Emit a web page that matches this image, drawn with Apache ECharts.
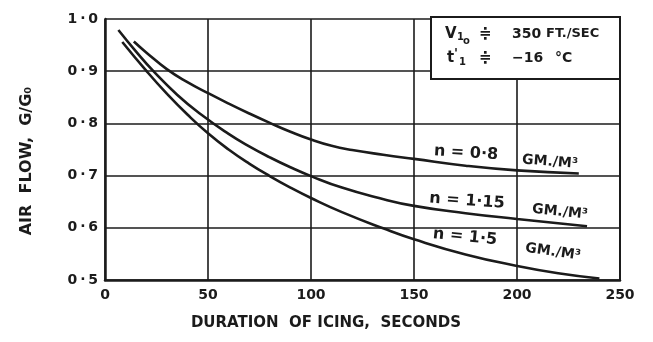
<!DOCTYPE html>
<html><head><meta charset="utf-8">
<script src="https://cdn.jsdelivr.net/npm/echarts@6/dist/echarts.min.js"></script>
<style>html,body{margin:0;padding:0;background:#fff}#c{width:653px;height:342px}</style>
</head><body><div id="c"></div>
<script>
// Curve n = 0.8 GM/M³
const duration08 = [14, 20, 30, 40, 50, 60, 70, 80, 90, 100, 110, 120, 135, 150, 175, 200, 230];
const airflow08  = [0.957, 0.936, 0.904, 0.879, 0.858, 0.838, 0.819, 0.801, 0.784, 0.769, 0.757, 0.749, 0.740, 0.732, 0.719, 0.710, 0.704];
// Curve n = 1.15 GM/M³
const duration115 = [6.5, 15, 23.5, 35, 46, 60, 70, 80, 90, 100, 115, 133, 150, 175, 200, 234];
const airflow115  = [0.979, 0.938, 0.900, 0.855, 0.819, 0.780, 0.756, 0.735, 0.716, 0.699, 0.677, 0.657, 0.642, 0.628, 0.617, 0.603];
// Curve n = 1.5 GM/M³
const duration15 = [8.4, 20, 30, 40, 50, 60, 70, 80, 90, 100, 115, 135, 150, 175, 200, 220, 240];
const airflow15  = [0.956, 0.901, 0.857, 0.817, 0.781, 0.750, 0.723, 0.699, 0.677, 0.657, 0.630, 0.599, 0.578, 0.549, 0.527, 0.513, 0.503];

const xTickLabels = ['0', '50', '100', '150', '200', '250'];
const yTickLabels = ['0\u2009·\u20095', '0\u2009·\u20096', '0\u2009·\u20097', '0\u2009·\u20098', '0\u2009·\u20099', '1\u2009·\u20090'];
const seriesNames = ['n = 0·8', 'n = 1·15', 'n = 1·5'];

const INK = '#1b1b1b';
const FONT = 'DejaVu Sans';
function pairs(xs, ys) { return xs.map((x, i) => [x, ys[i]]); }
function curve(name, xs, ys) {
  return { name, type: 'line', data: pairs(xs, ys), smooth: 0.5, showSymbol: false, silent: true,
    lineStyle: { color: INK, width: 2.6 } };
}
function txt(text, x, y, size, opts) {
  opts = opts || {};
  return { type: 'text', x, y, rotation: opts.rot || 0, z: 10,
    style: { text, fill: INK, font: (opts.weight || 'bold') + ' ' + size + 'px "' + FONT + '"', textAlign: opts.align || 'left', textVerticalAlign: 'middle' } };
}

const chart = echarts.init(document.getElementById('c'), null, { renderer: 'canvas' });
chart.setOption({
  animation: false,
  backgroundColor: '#fff',
  grid: { left: 105, right: 33, top: 19, bottom: 62, show: false },
  xAxis: {
    type: 'value', min: 0, max: 250, interval: 50,
    axisLine: { show: true, onZero: false, lineStyle: { color: INK, width: 2.5 } },
    axisTick: { show: false },
    splitLine: { show: true, showMinLine: true, showMaxLine: true, lineStyle: { color: INK, width: 1.6 } },
    axisLabel: { color: INK, fontFamily: FONT, fontWeight: 'bold', fontSize: 14, margin: 8, formatter: v => xTickLabels[Math.round(v / 50)] }
  },
  yAxis: {
    type: 'value', min: 0.5, max: 1.0, interval: 0.1,
    axisLine: { show: true, onZero: false, lineStyle: { color: INK, width: 2.5 } },
    axisTick: { show: false },
    splitLine: { show: true, showMinLine: true, showMaxLine: true, lineStyle: { color: INK, width: 1.6 } },
    axisLabel: { color: INK, fontFamily: FONT, fontWeight: 'bold', fontSize: 14, margin: 7, formatter: v => yTickLabels[Math.round((v - 0.5) / 0.1)] }
  },
  series: [
    curve(seriesNames[0], duration08, airflow08),
    curve(seriesNames[1], duration115, airflow115),
    curve(seriesNames[2], duration15, airflow15)
  ],
  graphic: [
    { type: 'line', shape: { x1: 620, y1: 19, x2: 620, y2: 280 }, style: { stroke: INK, lineWidth: 2 }, z: 5 },
    { type: 'rect', shape: { x: 431, y: 17, width: 189, height: 62 }, style: { fill: '#fff', stroke: INK, lineWidth: 2 }, z: 8 },
    txt('V', 445, 34, 15),
    txt('1', 457, 37, 10),
    txt('o', 463, 41, 10),
    txt('≑', 479, 34, 15),
    txt('350', 512, 34, 14),
    txt('FT./SEC', 546, 34, 13),
    txt('t', 447, 58, 15),
    txt("'", 454, 54, 13),
    txt('1', 459, 62, 10),
    txt('≑', 479, 58, 15),
    txt('−16', 512, 58, 14),
    txt('°C', 555, 58, 14),
    txt('n = 0·8', 466, 153, 16, { align: 'center', rot: -0.06 }),
    txt('GM./M³', 550, 162, 14, { align: 'center', rot: -0.08 }),
    txt('n = 1·15', 467, 201, 16, { align: 'center', rot: -0.07 }),
    txt('GM./M³', 560, 212, 14, { align: 'center', rot: -0.1 }),
    txt('n = 1·5', 465, 237, 16, { align: 'center', rot: -0.1 }),
    txt('GM./M³', 553, 252, 14, { align: 'center', rot: -0.14 }),
    txt('DURATION  OF ICING,  SECONDS', 326, 323, 15, { align: 'center' }),
    txt('AIR  FLOW,  G/G₀', 27, 161, 16, { align: 'center', rot: Math.PI / 2 })
  ]
});
</script>
</body></html>
